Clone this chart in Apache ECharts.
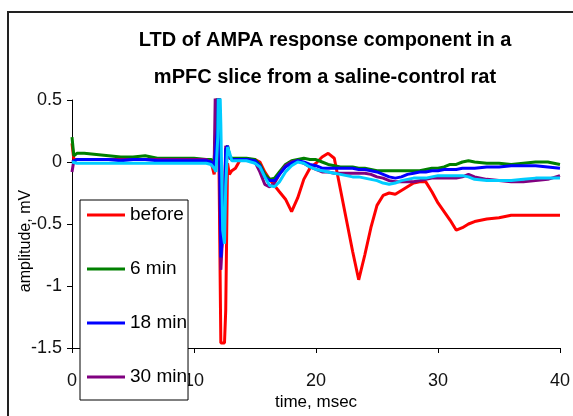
<!DOCTYPE html>
<html>
<head>
<meta charset="utf-8">
<script src="https://cdn.jsdelivr.net/npm/echarts@6/dist/echarts.min.js"></script>
<style>
html,body{margin:0;padding:0;background:#fff;}
#c{width:573px;height:416px;}
</style>
</head>
<body>
<div id="c"></div>
<script>
// time axis (msec) shared by all traces
var timeMs = [0, 0.15, 0.4, 1, 2, 3, 4, 5, 6, 7, 8, 9, 10, 11,
  11.4, 11.65, 11.8, 11.95, 12.05, 12.2, 12.35, 12.5, 12.6, 12.75, 12.9, 13.1, 13.4, 13.8, 14.3,
  15, 15.4, 15.8, 16.2, 16.6, 17, 17.5,
  18, 18.5, 19, 19.5, 20, 20.5, 21, 21.5, 22, 22.5, 23, 23.5, 24, 24.5, 25, 25.5,
  26, 26.5, 27, 27.5, 28, 28.5, 29, 29.5, 30, 30.5, 31, 31.5, 32, 32.5, 33,
  34, 35, 36, 37, 38, 39, 40];

var before = [0.15, 0.02, 0.02, 0.02, 0.02, 0.02, 0.02, 0.02, 0.02, 0.02, 0.02, 0.02, 0.02, 0.02,
  0.0, -0.1, 0.0, 0.9, 0.9, -1.46, -1.46, -1.46, -1.2, -0.01, -0.1, -0.07, -0.05, 0.02, 0.02,
  0.02, 0.0, -0.08, -0.14, -0.19, -0.24, -0.3,
  -0.4, -0.29, -0.14, -0.05, -0.01, 0.04, 0.07, 0.03, -0.22, -0.47, -0.72, -0.95, -0.75, -0.53, -0.35, -0.27,
  -0.25, -0.26, -0.23, -0.2, -0.17, -0.16, -0.16, -0.24, -0.33, -0.4, -0.47, -0.55, -0.53, -0.5, -0.48,
  -0.46, -0.45, -0.43, -0.43, -0.43, -0.43, -0.43];

var min6 = [0.2, 0.05, 0.07, 0.07, 0.06, 0.05, 0.04, 0.04, 0.05, 0.03, 0.03, 0.03, 0.03, 0.02,
  0.02, 0.0, 0.0, 0.6, 0.9, -0.7, -0.7, -0.5, 0.1, 0.13, 0.05, 0.03, 0.03, 0.03, 0.03,
  0.02, -0.02, -0.1, -0.14, -0.13, -0.08, -0.02,
  0.01, 0.02, 0.03, 0.02, 0.02, 0.0, -0.02, -0.03, -0.04, -0.04, -0.04, -0.05, -0.05, -0.06, -0.07, -0.07,
  -0.07, -0.07, -0.07, -0.07, -0.07, -0.07, -0.06, -0.05, -0.05, -0.04, -0.02, -0.02, 0.0, 0.01, 0.0,
  -0.01, -0.01, -0.02, -0.01, 0.0, 0.0, -0.02];

var min18 = [0.0, 0.0, 0.02, 0.02, 0.02, 0.02, 0.01, 0.02, 0.02, 0.01, 0.01, 0.01, 0.01, 0.01,
  0.0, -0.04, -0.05, 0.3, 0.9, -0.77, -0.77, -0.4, 0.1, 0.13, 0.05, 0.02, 0.02, 0.02, 0.02,
  0.01, -0.03, -0.12, -0.15, -0.15, -0.1, -0.04,
  -0.01, 0.01, 0.0, -0.02, -0.03, -0.05, -0.05, -0.05, -0.05, -0.05, -0.05, -0.06, -0.06, -0.07, -0.08, -0.1,
  -0.12, -0.13, -0.12, -0.1, -0.09, -0.08, -0.08, -0.07, -0.07, -0.06, -0.06, -0.06, -0.05, -0.05, -0.05,
  -0.04, -0.04, -0.03, -0.03, -0.03, -0.04, -0.05];

var min30 = [-0.08, 0.01, 0.02, 0.02, 0.02, 0.02, 0.02, 0.02, 0.02, 0.02, 0.02, 0.02, 0.02, 0.02,
  0.0, -0.05, 0.9, 0.9, 0.2, -0.87, -0.87, -0.3, 0.13, 0.1, 0.03, 0.02, 0.02, 0.02, 0.02,
  0.0, -0.08, -0.18, -0.2, -0.17, -0.1, -0.03,
  0.0, 0.01, -0.01, -0.04, -0.06, -0.08, -0.08, -0.09, -0.09, -0.09, -0.09, -0.09, -0.09, -0.1, -0.12, -0.13,
  -0.15, -0.16, -0.16, -0.16, -0.16, -0.15, -0.14, -0.13, -0.13, -0.13, -0.13, -0.13, -0.12, -0.1, -0.12,
  -0.14, -0.15, -0.16, -0.16, -0.15, -0.14, -0.11];

var min42 = [0.0, -0.01, -0.01, -0.01, -0.01, -0.01, -0.01, -0.01, -0.01, -0.01, -0.01, -0.01, -0.01, -0.01,
  -0.02, -0.05, -0.08, 0.2, 0.9, 0.3, -0.55, -0.66, -0.2, 0.12, 0.08, 0.01, 0.01, 0.01, 0.01,
  -0.01, -0.04, -0.12, -0.19, -0.2, -0.16, -0.08,
  -0.03, 0.0, -0.01, -0.04, -0.06, -0.07, -0.08, -0.09, -0.1, -0.11, -0.12, -0.12, -0.13, -0.14, -0.15, -0.17,
  -0.18, -0.17, -0.15, -0.14, -0.13, -0.13, -0.13, -0.12, -0.11, -0.11, -0.11, -0.11, -0.11, -0.12, -0.14,
  -0.15, -0.15, -0.15, -0.14, -0.13, -0.13, -0.13];

var seriesNames = ['before', '6 min', '18 min', '30 min', '42 min'];
var seriesColors = ['#ff0000', '#008000', '#0000ff', '#800080', '#00ccff'];
var seriesValues = [before, min6, min18, min30, min42];
var legendNames = ['before', '6 min', '18 min', '30 min'];
var xTicks = [0, 10, 20, 30, 40];
var yTicks = [-1.5, -1, -0.5, 0, 0.5];

function pairs(vals) {
  var out = [];
  for (var i = 0; i < timeMs.length; i++) out.push([timeMs[i], vals[i]]);
  return out;
}

var drawOrder = [0, 1, 3, 2, 4];
var series = drawOrder.map(function (k) {
  return {
    name: seriesNames[k],
    type: 'line',
    data: pairs(seriesValues[k]),
    showSymbol: false,
    symbol: 'none',
    clip: true,
    lineStyle: { color: seriesColors[k], width: 3 },
    itemStyle: { color: seriesColors[k] },
    emphasis: { disabled: true },
    animation: false
  };
});

var FONT = '"Liberation Sans", Arial, sans-serif';
var chart = echarts.init(document.getElementById('c'), null, { renderer: 'canvas' });
chart.setOption({
  backgroundColor: '#ffffff',
  animation: false,
  title: {
    text: 'LTD of AMPA response component in a\nmPFC slice from a saline-control rat',
    left: 325,
    top: 22,
    textAlign: 'center',
    padding: 0,
    textStyle: { fontFamily: FONT, fontSize: 20, fontWeight: 'bold', color: '#000', lineHeight: 37 }
  },
  graphic: [{
    type: 'rect',
    shape: { x: 8, y: 12, width: 700, height: 500 },
    style: { fill: null, stroke: '#222', lineWidth: 2 },
    silent: true,
    z: -1
  }],
  legend: {
    data: legendNames,
    orient: 'vertical',
    left: 80,
    top: 200,
    icon: 'rect',
    itemWidth: 38,
    itemHeight: 3,
    itemGap: 34,
    padding: [5, 1, 13, 7],
    backgroundColor: '#ffffff',
    borderColor: '#000',
    borderWidth: 1,
    textStyle: { fontFamily: FONT, fontSize: 19, color: '#000', lineHeight: 20 },
    selectedMode: false
  },
  grid: { left: 72, top: 100, right: 5, bottom: 65, containLabel: false },
  xAxis: {
    type: 'value',
    min: 0, max: 40, interval: 10,
    name: 'time, msec',
    nameLocation: 'middle',
    nameGap: 46,
    nameMoveOverlap: false,
    nameTextStyle: { fontFamily: FONT, fontSize: 17, color: '#000' },
    axisLine: { onZero: false, lineStyle: { color: '#000', width: 1 } },
    axisTick: { show: true, inside: false, length: 5, lineStyle: { color: '#000' } },
    axisLabel: { fontFamily: FONT, fontSize: 18, color: '#111', margin: 24,
      formatter: function (v) { return xTicks.indexOf(v) >= 0 ? String(v) : ''; } },
    splitLine: { show: false }
  },
  yAxis: {
    type: 'value',
    min: -1.5, max: 0.5, interval: 0.5,
    name: 'amplitude, mV',
    nameLocation: 'middle',
    nameGap: 38,
    nameMoveOverlap: false,
    nameTextStyle: { fontFamily: FONT, fontSize: 16, color: '#000', padding: [0, 34, 0, 0] },
    axisLine: { show: true, lineStyle: { color: '#000', width: 1 } },
    axisTick: { show: true, inside: false, length: 5, lineStyle: { color: '#000' } },
    axisLabel: { fontFamily: FONT, fontSize: 18, color: '#111', margin: 10,
      formatter: function (v) { return yTicks.indexOf(v) >= 0 ? String(v) : ''; } },
    splitLine: { show: false }
  },
  series: series
});
</script>
</body>
</html>
